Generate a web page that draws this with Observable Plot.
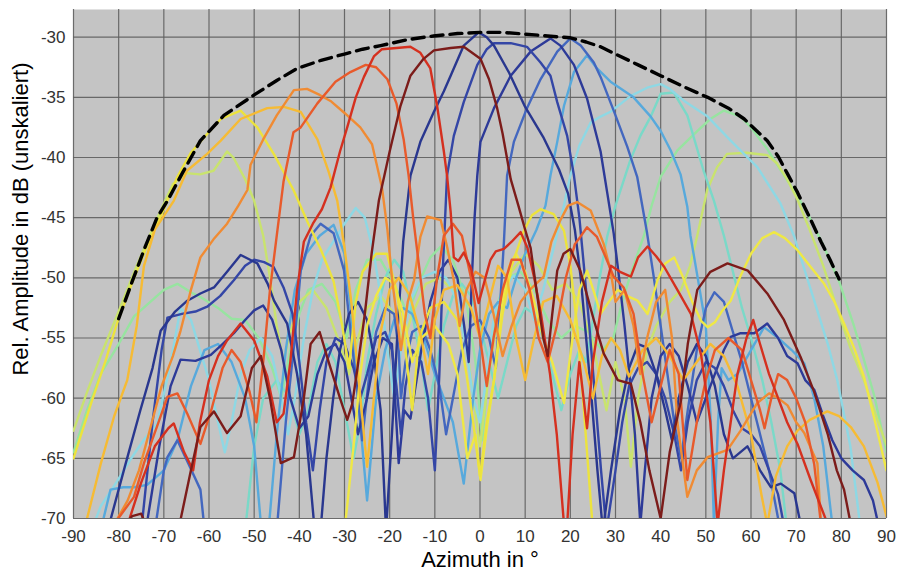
<!DOCTYPE html>
<html>
<head>
<meta charset="utf-8">
<script src="https://cdn.jsdelivr.net/npm/d3@7"></script>
<script src="https://cdn.jsdelivr.net/npm/@observablehq/plot@0.6"></script>
<style>
  body { margin: 0; background: #ffffff; }
  #chart svg { display: block; }
</style>
</head>
<body>
<div id="chart"></div>
<script>
// Axis ticks
const xTicks = [-90, -80, -70, -60, -50, -40, -30, -20, -10, 0, 10, 20, 30, 40, 50, 60, 70, 80, 90];
const yTicks = [-70, -65, -60, -55, -50, -45, -40, -35, -30];

// Envelope of all beam maxima [azimuth °, dB]
const envelope = [[-80,-53.4],[-77,-50.3],[-74,-47.3],[-71.5,-45],[-69.2,-43.6],[-65.9,-41.3],[-61.9,-38.6],[-56.7,-36.5],[-50,-34.8],[-45,-33.6],[-40.5,-32.6],[-35,-31.9],[-30,-31.4],[-26,-31],[-22,-30.7],[-16,-30.2],[-10.3,-29.9],[-5,-29.7],[0,-29.6],[5,-29.6],[10,-29.75],[15,-29.9],[20,-30.05],[23.5,-30.4],[26.7,-30.8],[30,-31.4],[35,-32.3],[40,-33.2],[45,-34.1],[50.4,-35.0],[55,-35.9],[58.5,-36.8],[61,-37.7],[63.6,-38.6],[66,-39.9],[68,-41.3],[70.3,-42.9],[73,-45],[75.5,-47],[77.5,-48.5],[79.5,-50.1]];

// Beam patterns [azimuth °, dB]
const beamLightGreen = [[-90,-64.5],[-87,-61],[-84,-58],[-80,-55.5],[-76.6,-53.2],[-73,-52],[-70,-51],[-67,-50.5],[-64,-51.2],[-61.9,-51.6],[-58,-52.5],[-55,-53.4],[-52,-53.5],[-49,-55],[-46,-57.5],[-44,-60],[-42,-56],[-40,-53],[-38,-51],[-35,-50.5],[-32,-52],[-29.5,-55],[-27.5,-51],[-25,-48.5],[-22,-48.5],[-19,-50.5],[-16,-53],[-13,-50],[-11,-48.3],[-8.7,-47.4],[-6,-48.5],[-3,-52],[-1,-57],[0.5,-63.5],[2,-57],[4,-52],[6,-50],[9,-49.5],[12,-51],[15,-53.5],[18,-55],[21,-54],[24,-54.5],[27,-56],[29.5,-55],[31.5,-52],[33.5,-49.5],[36.3,-46.5],[38,-44],[40,-41.6],[43.7,-39.4],[48.1,-37.8],[51,-36.8],[54,-36.1],[57.7,-36.6],[60,-37.5],[63.6,-39.3],[67,-41.3],[70.3,-43.2],[73,-45],[76,-47.3],[79.5,-50.3],[82.8,-54],[85,-56.8],[87.3,-59.8],[90,-64.5]];
const beamLime = [[-90,-62.7],[-87,-59.5],[-84,-56.5],[-80,-52.8],[-76,-49],[-72,-45.5],[-68,-42.2],[-65,-41.3],[-62,-41.4],[-59,-41.1],[-56,-39.5],[-54.6,-40],[-52,-41.8],[-50,-43.6],[-48,-46.5],[-46.5,-50],[-45,-54],[-43.5,-57],[-42,-54.5],[-40,-52],[-37,-51],[-34,-52.5],[-31,-55.5],[-29,-58],[-27,-55],[-25,-52.5],[-22,-51.5],[-19,-53],[-17,-55.5],[-15,-53],[-12,-50.5],[-9,-50],[-6,-51],[-3.5,-54],[-2,-58.5],[0,-64],[2,-58],[4,-53],[7,-49.5],[10,-48],[13,-49],[16,-51],[19,-50.5],[22,-52],[25,-55.5],[28,-61],[30,-57],[32,-60],[33.4,-65.7],[35,-60],[37,-56],[39,-54],[42,-52],[44.5,-51],[46.5,-49],[48.1,-46.5],[50.3,-42.7],[52.5,-40.8],[54.7,-39.7],[59,-39.6],[63.6,-39.8],[65.8,-40.5],[68,-41.8],[70.3,-43.5],[73,-46],[76,-49],[79,-52.5],[82,-55.8],[85,-58.5],[88,-61.8],[90,-63.9]];
const beamTurquoise = [[-56,-75],[-52,-71],[-50,-64],[-48,-60],[-45,-58.5],[-42,-60],[-40,-63],[-38,-61],[-36,-57],[-34,-55.5],[-32,-57],[-30,-61],[-28,-65],[-26.5,-62],[-25,-57],[-23,-53],[-21,-50],[-19,-48.5],[-17,-49.5],[-15,-53],[-13,-57],[-11.5,-61],[-10,-58],[-8,-54],[-6,-51.5],[-4,-50.5],[-2,-51.5],[0,-54],[2,-57],[4,-60],[6,-57],[8,-54],[10,-52.5],[12,-53],[14,-55],[16,-58],[18,-61],[20,-58],[22,-56],[23.5,-57],[24.8,-54],[26.5,-50],[28.2,-46.5],[30,-44],[33.3,-40.2],[35.5,-38.2],[37.8,-36.6],[40,-34.7],[42.9,-34.6],[45.9,-36.5],[49.5,-41.1],[51.8,-43.6],[54,-46.5],[56,-49.5],[58,-52.5],[60,-55],[62.5,-58.5],[64.5,-62],[66.5,-66],[68,-71]];
const beamLightCyan = [[-86,-71],[-84,-69],[-80.5,-67],[-77.4,-65.1],[-74.5,-63.5],[-71.5,-62.1],[-69,-58],[-67.5,-55],[-66.3,-52.5],[-64,-53.5],[-62,-56],[-60,-58.5],[-58,-62],[-56.5,-64.5],[-55,-62],[-53,-58],[-51,-56],[-48.5,-55],[-46,-56.5],[-44,-60],[-42.5,-63],[-41,-60],[-39,-55],[-37,-51],[-35,-48.5],[-32.5,-47],[-30,-45.5],[-27.5,-44.2],[-25.5,-45],[-23.5,-48],[-22,-51.5],[-20.5,-56],[-19,-60],[-17.5,-56],[-15.5,-52],[-13,-50],[-10,-49.5],[-7.5,-50],[-5,-52],[-3,-56],[-1.5,-60],[0,-62],[1.5,-58],[3,-53.5],[5,-51],[7.5,-49.8],[10,-51],[12,-53.5],[14,-51],[16,-48],[18,-45],[20,-41.5],[22,-39],[24.5,-37.1],[26.7,-36.6],[28.9,-36.2],[33.3,-34.9],[37,-34.2],[40,-33.9],[42,-34.3],[45.2,-35.3],[50.4,-36.6],[55.5,-38.6],[61.4,-40.8],[66.5,-43.8],[69.5,-46.5],[72,-49.5],[74.5,-52.5],[77,-55.5],[79.1,-58.5],[82,-64],[84.3,-71]];
const beamLightBlue = [[-84,-71],[-81.8,-67.6],[-79,-67.4],[-76.6,-67.4],[-73.7,-67.2],[-70,-66],[-67,-63.5],[-64,-59],[-61,-56],[-58,-55.5],[-55,-57],[-52,-60],[-50,-64],[-48.5,-70.5],[-46.7,-70.5],[-45,-63],[-43,-56],[-41,-51],[-38.5,-48],[-35.5,-46.5],[-32.4,-45.6],[-30,-48],[-28.5,-53],[-27,-60],[-25,-68.5],[-23,-60],[-21,-56],[-19,-53.5],[-17,-52.5],[-15,-53],[-12.5,-55],[-10,-58],[-8,-60],[-6,-62],[-3.6,-67.1],[-1.5,-60],[0,-56],[2,-53],[4,-52],[6,-52.5],[8,-50],[10,-48],[12.5,-46],[14.5,-44],[15.6,-41.5],[17.1,-38.7],[18.6,-35.7],[20.8,-32.9],[23.7,-31.5],[25.9,-32.6],[28.9,-33.7],[34,-35],[37.8,-36.6],[40,-37.8],[42.2,-39.4],[44.4,-41.4],[45.9,-44.1],[46.6,-46.5],[48.2,-50],[50,-54],[51.1,-62],[51.8,-70.5],[52.7,-62],[53.5,-57.5],[55,-58.5],[57,-58],[60,-56],[62.9,-54.1],[66,-55],[69,-56],[71.8,-57.1],[74,-60],[76,-64],[78,-70.5]];
const beamBlue20 = [[-72,-71],[-70,-66],[-69.2,-64.9],[-67,-63.5],[-64.5,-65.5],[-61.9,-67.6],[-61.1,-70.5],[-55,-75],[-46,-75],[-45,-71],[-43,-62],[-41,-55],[-39.7,-49.4],[-37.5,-46.5],[-35.3,-45.5],[-32.4,-46.3],[-30.1,-49.4],[-28.5,-55],[-27,-60],[-26.1,-63.5],[-24.5,-58],[-23,-54.5],[-21,-52.5],[-19,-53],[-18,-56],[-17.5,-60],[-16.5,-57],[-15,-54.5],[-13,-54],[-11,-56],[-9,-59],[-7.5,-63],[-6,-60],[-4,-56],[-2,-54],[0,-53.5],[2,-55],[3.5,-57.5],[4.5,-52],[5.3,-47],[6,-41.5],[7.5,-38.7],[10.4,-35.9],[13.4,-33.5],[17.1,-31.2],[20,-30.1],[22.3,-30.7],[25.2,-32.1],[26.7,-33.3],[29.6,-36.1],[32.6,-39.1],[34.8,-41.6],[37,-46.3],[38.5,-50],[40,-54],[41.5,-58],[43,-62],[44.5,-65],[46,-61],[48,-56],[50,-52.5],[51.9,-51.2],[54,-52],[56,-54.5],[58,-57],[60,-60],[62,-63],[64,-66],[66,-70],[67,-72]];
const beamNavy15 = [[-74,-71],[-71,-64],[-68.5,-59],[-66.3,-56.8],[-63,-56.9],[-59.6,-56.4],[-57,-55.5],[-54.5,-54.6],[-52,-53.5],[-50,-52.7],[-48,-52.3],[-46,-53.5],[-44,-56],[-42,-60],[-40,-62.5],[-38,-61.5],[-36,-58],[-34,-56],[-32,-55.5],[-30,-57],[-28.5,-60],[-27,-63],[-25,-60],[-23.5,-57],[-21.5,-55],[-19.5,-55.5],[-18,-65.4],[-16.8,-61],[-15.4,-61.7],[-13,-56],[-11,-52],[-9,-49.5],[-7,-48.5],[-5,-50],[-3.5,-54],[-2.5,-57],[-1.8,-50],[-1.2,-45],[-0.6,-41.5],[0.1,-38.7],[3.1,-35.9],[6.8,-33.2],[11.2,-31.2],[15.6,-30.1],[17.8,-30.7],[20.8,-32.3],[23.7,-35.1],[26.7,-39.5],[28.2,-43],[29.6,-46.3],[30.8,-50],[32,-54],[33.2,-58.5],[34.3,-63],[35.5,-70.5],[36.5,-66],[38,-60],[40,-56.5],[42,-55.5],[44,-56.5],[46,-59],[48,-62],[50,-60],[52,-58],[54,-56],[55.5,-54.9],[57.7,-54.6],[60.7,-54.6],[63.6,-53.8],[66,-55],[68,-56.5],[70.3,-57.1],[72,-58.5],[74,-59.3],[76,-61.5],[78,-63.5],[80,-65],[82.5,-66],[85,-66.8],[87,-68.5],[88.5,-71]];
const beamBlue9 = [[-75,-71],[-72.5,-62],[-70.5,-56],[-69.2,-53.3],[-66,-53],[-63,-52.8],[-60.4,-52.4],[-57.5,-51.5],[-54.5,-50.2],[-52,-49],[-50,-48.5],[-47.8,-48.7],[-45.7,-49.1],[-43.5,-50.8],[-41.5,-53],[-40,-57],[-38.5,-62],[-37,-66],[-35.5,-61],[-34,-57],[-32,-55],[-30,-55.5],[-28,-57.5],[-26.5,-60],[-25,-58],[-23,-55],[-21,-54.5],[-19.5,-56],[-18.5,-59],[-17.5,-63],[-16.5,-59],[-15,-56],[-13,-57],[-11.5,-60],[-10,-66],[-9,-58],[-8.2,-49],[-7.3,-41.5],[-5.8,-38.2],[-3.6,-35.4],[-0.6,-32.3],[1.5,-31],[3.1,-30.5],[6.8,-30.5],[10.4,-30.8],[13.4,-32.1],[15.6,-33.2],[17.1,-35.4],[19.3,-38.2],[20.8,-41.5],[22,-45],[23,-49],[24.2,-54],[25.5,-60],[26.8,-66],[28,-71],[30,-66],[31.5,-62],[33,-59],[35,-57.5],[37,-57],[39,-58],[41,-60],[43,-63],[44.5,-66],[46,-62],[48,-58.5],[50,-57],[52,-57.5],[54,-59],[56,-61],[58,-62.5],[60,-63],[62,-64],[64,-66],[66,-68],[67.5,-71]];
const beamNavy0 = [[-84,-71],[-81.8,-70.1],[-78.5,-65.5],[-75.2,-61],[-72.5,-57.5],[-70.7,-54.4],[-67.5,-52.8],[-64.8,-51.9],[-61.9,-51.3],[-58.9,-50.8],[-56,-49.5],[-53,-48.1],[-49.3,-48.8],[-47,-50.5],[-45.6,-51.9],[-42.7,-53.8],[-40.5,-58],[-38.5,-63],[-36.6,-71],[-35.3,-71],[-34,-65],[-32.5,-60],[-31,-56],[-29,-53],[-27,-52],[-25,-53.5],[-23.5,-56.5],[-22,-61],[-20.8,-71],[-19.5,-63],[-18.2,-54],[-17,-47],[-15.4,-41.5],[-13.2,-38.7],[-10.2,-36.2],[-8,-34.5],[-6.5,-33.2],[-3.6,-30.7],[-0.3,-29.6],[1.5,-30],[3.1,-30.7],[6.5,-33],[10,-35.8],[14,-38.3],[17.5,-41],[19.5,-43],[21,-46],[22.3,-50],[23.5,-55],[24.7,-60],[26,-66],[27.2,-71],[29,-66],[31,-61],[33,-57.5],[35,-55.5],[37,-55.8],[39,-58],[41,-61],[42.5,-63.5],[44,-60],[46,-57],[48,-55.5],[50,-56.5],[52,-59],[54,-63],[56,-65],[59.2,-64],[62,-66],[64.4,-67.4],[66.6,-67.1],[69.6,-67.9],[71,-70.5]];
const beamYellowEast = [[-30,-71],[-28,-64],[-26.5,-58],[-25,-54],[-23,-51.5],[-21,-50],[-19,-50.5],[-17,-53],[-15,-57],[-13,-55],[-10,-54],[-7,-55.5],[-5,-58],[-2.8,-65],[-1,-63],[0.1,-66.8],[1.5,-62.5],[3.1,-58.5],[5,-52],[6.5,-49],[8,-48],[10,-49.5],[12,-52],[14,-55],[16,-57],[18.6,-60.4],[20.5,-55],[22,-51],[23.7,-49.4],[25.5,-51.5],[26.7,-53],[28.5,-52],[30.5,-51],[32.5,-51.5],[34.9,-51.9],[37.1,-53],[39.3,-50.2],[41,-48.8],[43,-48.3],[45,-50],[47,-52],[49,-53.6],[50.4,-54.1],[52,-53.7],[53.5,-52.8],[55.5,-51.9],[57.5,-50],[60,-48],[62.5,-46.7],[65.1,-46.2],[67.5,-46.7],[70.3,-47.7],[73,-49],[76.2,-50.5],[78.5,-52],[80.6,-53.8],[83,-56],[85,-58.2],[87.5,-62],[90,-66]];
const beamYellowWest = [[-90,-65],[-86,-60.3],[-83,-57],[-80.4,-53.8],[-77,-50.4],[-74,-47.6],[-70,-44.3],[-67,-41.6],[-64,-39.6],[-61,-38.3],[-57.4,-36.8],[-53,-36.1],[-49.3,-37.5],[-45.5,-39.8],[-41.3,-42.7],[-38,-45.5],[-35.3,-47.6],[-32.4,-50.3],[-30.5,-54],[-29,-57.5],[-27.5,-52],[-26,-49.5],[-23,-48],[-20.6,-48],[-18.5,-51],[-16.5,-56],[-15,-61],[-13.5,-55],[-11,-52.5],[-8,-52],[-5,-53.5],[-3,-58],[-1.5,-62],[0,-66.5],[1.5,-62],[3.1,-58.5],[5,-53],[7,-49],[9.7,-46.1],[11.5,-44.8],[13.4,-44.3],[16.3,-44.7],[18.6,-46.1],[20,-49],[21.5,-54],[22.8,-60],[24,-66],[25,-71]];
const beamYellowOrange = [[-87,-70],[-84,-65.5],[-81,-61.5],[-78.1,-58.5],[-76,-54],[-74.4,-49],[-72,-46],[-67.8,-43.6],[-64.9,-41.1],[-60.4,-39.7],[-57.4,-38.6],[-53,-36.8],[-47.1,-35.9],[-43.4,-35.8],[-39.7,-36.2],[-36,-38.5],[-33.5,-41.2],[-31.6,-43.6],[-30,-47.5],[-28.5,-52],[-27,-58],[-25,-65.7],[-23.5,-60],[-22,-54.5],[-20,-51],[-18,-50],[-15.5,-51.5],[-13,-55],[-11.5,-58],[-10,-53.5],[-8,-51],[-5,-50.6],[-2,-52.5],[0,-55],[2,-52],[4,-49],[6,-50],[8,-55],[10,-58.5],[12,-55],[14,-52],[17,-51.5],[20,-53.5],[23,-57],[25,-60],[27,-56.5],[29,-55],[31,-56],[33,-58.2],[36,-56],[39,-55],[42,-56.5],[45,-58.5],[48,-57],[51,-55.5],[54,-56.5],[57,-59],[60,-63],[62.3,-68],[63.6,-70.5],[65.5,-66.5],[68,-64],[70.3,-62.7],[73,-61.8],[76.9,-61.1],[79.5,-61.5],[82.1,-62.4],[85,-64],[88,-67],[90,-69.8]];
const beamOrange = [[-81,-70.5],[-78,-68.5],[-75.5,-66],[-73,-62.5],[-70.5,-59],[-68,-56.5],[-66.3,-54.4],[-64,-51],[-61.9,-48.3],[-59,-46.8],[-56,-45.5],[-53.5,-44],[-51.5,-42.7],[-50.8,-40.6],[-48,-38.5],[-45,-36.5],[-41.2,-34.4],[-38.3,-34.3],[-35.5,-34.8],[-33.1,-35.3],[-30,-36.3],[-26.5,-37.5],[-23.9,-38.9],[-21.7,-42.5],[-20.5,-46],[-19.5,-50],[-18.5,-53],[-17.5,-56],[-16,-52],[-14.6,-50.2],[-13.2,-46.6],[-11.7,-44.9],[-8.7,-45.2],[-7.3,-47.4],[-5.8,-50.2],[-4.5,-54],[-3,-51],[-1,-49.5],[1,-50],[3,-53],[5,-56.5],[7,-54],[9,-52],[11,-51],[14.1,-49.9],[15.8,-47],[17.8,-45.2],[19.5,-44],[21.5,-43.7],[24.5,-44.4],[27.4,-47.2],[28.9,-49.4],[30,-52],[32,-51],[34,-54],[35.5,-58],[37,-55],[39,-52],[41,-51],[42.5,-55],[43.7,-62],[45.9,-68.2],[48,-66],[50.4,-64.9],[54.8,-64.3],[57.7,-62.7],[61.4,-60.4],[64,-59.6],[66,-60],[68.1,-60.6],[70,-62],[71.8,-62.9],[74.7,-65.4],[75.5,-70.5]];
const beamRedOrange = [[-82,-70.5],[-80.3,-70.1],[-76.6,-68.2],[-74.4,-65.4],[-70.7,-61.5],[-69.2,-59.9],[-67,-59.6],[-64.8,-61.3],[-61.9,-63.8],[-59.5,-61],[-57,-57.5],[-55,-56],[-53,-57],[-51,-59.5],[-49.5,-62],[-48,-57],[-46.5,-51],[-45,-46.5],[-43.5,-42],[-41.3,-37.9],[-39.7,-37.5],[-36,-35.5],[-32,-33.7],[-28.7,-32.9],[-25.3,-32.3],[-23,-32.5],[-20.5,-33.5],[-18.5,-35.5],[-16.9,-38.5],[-15.8,-41.5],[-14.8,-45],[-13.5,-49],[-12.2,-53],[-11,-55],[-9.5,-50],[-8,-46.5],[-6,-45.5],[-4,-46.5],[-2,-50],[0,-55],[1.5,-59],[3,-55],[5,-51],[7,-48.5],[9,-48.5],[11,-51],[13,-55],[15,-57],[17,-54],[19,-50],[21,-47.2],[22.2,-46.6],[23.7,-45.8],[25.9,-46.6],[27.5,-48],[29.6,-49.9],[31.8,-50.8],[34,-53],[36,-58],[38,-62],[40,-59],[42,-56],[44,-58],[45.9,-66.8],[48,-62],[50,-58.5],[52,-56],[55,-55],[58,-56],[60,-58.5],[62,-61],[63,-62.5],[64.5,-60],[66,-58],[68,-58.5],[70,-60],[72,-62],[74,-65.5],[75.5,-70.5]];
const beamRed = [[-78,-70.5],[-75,-67],[-72,-64],[-69,-62.5],[-67.8,-62.1],[-65.5,-64.5],[-63.5,-66],[-62,-62],[-60,-58.5],[-58,-56.5],[-56,-55.2],[-53,-53.8],[-50,-55.2],[-47.1,-58.2],[-45,-62],[-43.5,-61.3],[-42,-57],[-40.5,-51],[-39,-47],[-37,-45.5],[-35,-44.3],[-33.1,-42.5],[-31,-39.5],[-29.4,-37.5],[-27.5,-35],[-25.7,-33.3],[-23.5,-31.6],[-21.7,-31.0],[-18.5,-30.9],[-15.4,-30.8],[-13.2,-31.3],[-11,-32.6],[-9.5,-35.7],[-8,-39.5],[-7.3,-41.5],[-6.5,-44.5],[-5.8,-48.3],[-4.8,-48.6],[-3.6,-47.9],[-2,-49.2],[-0.3,-52.1],[1.2,-50],[2.3,-48.5],[3.5,-47.8],[5.3,-47.6],[7,-47],[9,-46.2],[10.5,-47.5],[12,-50],[13.5,-53],[15.5,-58],[17,-63],[18.6,-70.5],[19.3,-70.5],[20.5,-63],[22,-57],[23.7,-62.5],[25,-57],[27,-52],[29,-49],[31,-49.5],[33.4,-49.9],[35,-48.3],[37.1,-47.4],[39,-48.2],[40.8,-49.1],[43.7,-51],[46.7,-53],[49,-56.5],[51,-62],[52.6,-70.5],[54,-66],[55.5,-62],[57,-58],[59,-55],[60.5,-53.5],[62,-55.5],[64,-58],[66,-60],[68,-62],[70.3,-63.8],[73.2,-66.8],[77,-70.5]];
const beamMaroon = [[-80,-71],[-77,-69.8],[-75,-69.6],[-73.5,-71],[-70,-75],[-68,-71],[-66.3,-70.1],[-64,-66],[-61.9,-62.4],[-58.9,-61.1],[-56,-62.9],[-53,-61.5],[-50.5,-57.5],[-48.5,-56.5],[-46.5,-60],[-44.1,-65.4],[-41.2,-64.9],[-39,-60],[-37.5,-55.5],[-35.5,-54.5],[-33.5,-57],[-31,-60],[-29.4,-61.8],[-28.3,-60.5],[-27.2,-57.7],[-25.5,-53],[-24,-48],[-22.4,-43.6],[-20,-39.5],[-17.6,-35.7],[-15.4,-33.2],[-12.5,-31.8],[-10.2,-31.1],[-6.5,-30.9],[-3.6,-30.8],[0.1,-31.8],[2,-33.5],[3.8,-35.9],[5,-38],[6,-40.1],[6.8,-41.8],[8.5,-44],[10,-46],[11.2,-47.5],[12.5,-51],[14,-55],[15,-56.5],[16,-53],[17.1,-49.4],[18.5,-48],[20,-47.6],[22.2,-49.4],[25.2,-53.5],[27.4,-56.3],[30.5,-58.5],[33.4,-58.8],[35.5,-62],[37.5,-66],[40,-70],[42,-64.5],[44.5,-60.2],[46,-55.5],[48.1,-51],[51,-49.5],[54.8,-48.8],[59.3,-49.4],[63.6,-51.3],[67.3,-53.5],[71,-56.6],[74,-59.5],[77,-63],[79,-66],[80.6,-67.6],[82.1,-70.5]];

// Colours of the beams, in drawing order
const beamColors = ["#97e4a0", "#c9e36e", "#7ad9c8", "#8ed8e4", "#57a9dc", "#4367bf", "#2d3a98", "#3446a6", "#29378f", "#efe845", "#ece33d", "#f6bb34", "#f08b33", "#e85a2b", "#d5301f", "#7c1c1a"];
const beamData = [beamLightGreen, beamLime, beamTurquoise, beamLightCyan, beamLightBlue, beamBlue20, beamNavy15, beamBlue9, beamNavy0, beamYellowEast, beamYellowWest, beamYellowOrange, beamOrange, beamRedOrange, beamRed, beamMaroon];

const toRows = (pts) => pts.map(([x, y]) => ({x, y}));
const plainNumber = (d) => String(d);

const beamMarks = beamData.map((pts, i) =>
  Plot.line(toRows(pts), {
    x: "x", y: "y",
    stroke: beamColors[i],
    strokeWidth: 2.4,
    strokeLinejoin: "round",
    clip: true
  })
);

const chart = Plot.plot({
  width: 897,
  height: 572,
  marginLeft: 73,
  marginRight: 11,
  marginTop: 9,
  marginBottom: 54,
  style: {fontFamily: "'Liberation Sans', Arial, Helvetica, sans-serif", fontSize: "17px", color: "#333", background: "#ffffff"},
  x: {domain: [-90, 90], ticks: xTicks, label: null},
  y: {domain: [-70, -27.7], ticks: yTicks, label: null},
  marks: [
    Plot.frame({fill: "#c4c4c4", stroke: null}),
    Plot.gridX(xTicks, {stroke: "#5e5e5e", strokeOpacity: 0.9, strokeWidth: 1.2}),
    Plot.gridY(yTicks, {stroke: "#5e5e5e", strokeOpacity: 0.9, strokeWidth: 1.2}),
    Plot.axisX(xTicks, {tickSize: 0, tickPadding: 11, fontSize: 17, fill: "#333", tickFormat: plainNumber}),
    Plot.axisY(yTicks, {tickSize: 0, tickPadding: 8, fontSize: 17, fill: "#333", tickFormat: plainNumber}),
    ...beamMarks,
    Plot.line(toRows(envelope), {x: "x", y: "y", stroke: "#000", strokeWidth: 3.4, strokeDasharray: "12,7", clip: true}),
    Plot.text(["Azimuth in °"], {frameAnchor: "bottom", lineAnchor: "middle", dy: 41, fontSize: 22, fill: "#000"}),
    Plot.text(["Rel. Amplitude in dB (unskaliert)"], {frameAnchor: "left", textAnchor: "middle", lineAnchor: "middle", dx: -53, dy: -45, rotate: -90, fontSize: 22, fill: "#000"})
  ]
});

document.getElementById("chart").appendChild(chart);
</script>
</body>
</html>
